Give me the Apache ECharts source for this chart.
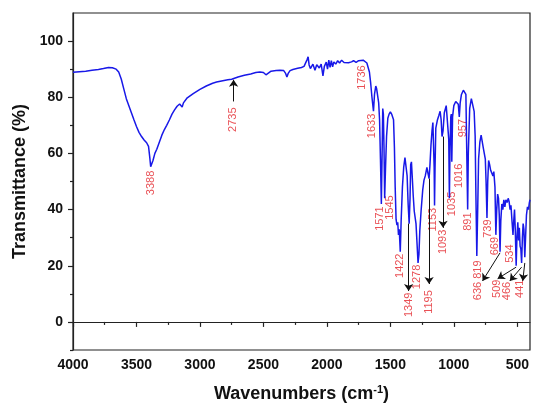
<!DOCTYPE html>
<html>
<head>
<meta charset="utf-8">
<script src="https://cdn.jsdelivr.net/npm/echarts@6/dist/echarts.min.js"></script>
<style>
    html, body { margin: 0; padding: 0; background: #fff; }
    #container { width: 533px; height: 408px; }
</style>
</head>
<body>
<div id="container"></div>
<script>
// spectrum: wavenumber (cm-1) / transmittance (%)
const wavenumbers = [
    4000, 3950, 3900, 3850, 3800, 3760, 3720, 3690, 3660, 3640, 3620, 3600, 3580, 3560, 3540, 3520, 3500, 3480,
    3460, 3440, 3420, 3405, 3395, 3388, 3380, 3370, 3355, 3340, 3320, 3300, 3280, 3262, 3240, 3220, 3200, 3180,
    3160, 3145, 3140, 3130, 3100, 3053, 3000, 2950, 2900, 2869, 2820, 2780, 2750, 2735, 2700, 2650, 2600, 2560,
    2528, 2500, 2480, 2465, 2440, 2400, 2370, 2340, 2325, 2315, 2305, 2290, 2268, 2230, 2200, 2180, 2165, 2155,
    2148, 2140, 2130, 2110, 2094, 2080, 2060, 2045, 2031, 2020, 2005, 1995, 1985, 1975, 1965, 1955, 1945, 1930,
    1915, 1900, 1884, 1865, 1850, 1830, 1806, 1790, 1770, 1750, 1736, 1714, 1700, 1685, 1675, 1665, 1655, 1645,
    1633, 1625, 1615, 1608, 1600, 1592, 1585, 1578, 1571, 1565, 1560, 1555, 1550, 1545, 1538, 1530, 1520, 1510,
    1500, 1490, 1483, 1475, 1468, 1462, 1455, 1448, 1442, 1436, 1430, 1422, 1415, 1405, 1395, 1385, 1376, 1368,
    1360, 1352, 1345, 1340, 1334, 1328, 1320, 1312, 1305, 1298, 1290, 1282, 1275, 1268, 1258, 1245, 1235, 1225,
    1212, 1204, 1195, 1188, 1180, 1172, 1165, 1160, 1155, 1152, 1148, 1142, 1130, 1118, 1108, 1100, 1093, 1085,
    1075, 1060, 1048, 1040, 1035, 1030, 1024, 1020, 1016, 1010, 1000, 985, 975, 965, 957, 950, 940, 925,
    912, 905, 898, 891, 886, 875, 862, 850, 840, 832, 826, 819, 812, 805, 795, 785, 775, 768,
    760, 752, 746, 739, 733, 726, 718, 710, 700, 692, 685, 676, 669, 662, 655, 648, 642, 636,
    630, 622, 614, 606, 598, 590, 580, 572, 565, 557, 550, 542, 534, 528, 522, 516, 509, 503,
    496, 490, 484, 478, 472, 466, 460, 454, 448, 441, 435, 428, 420, 412, 405, 400
];
const transmittance = [
    88.9, 89.1, 89.3, 89.6, 89.9, 90.2, 90.6, 90.5, 90.0, 89.0, 86.5, 83.0, 79.5, 77.0, 74.5, 72.0, 69.6, 67.5,
    66.0, 64.8, 63.8, 62.5, 58.5, 55.3, 56.0, 57.5, 60.0, 61.5, 64.0, 66.5, 68.5, 70.0, 72.0, 74.0, 75.5, 76.8,
    77.6, 77.2, 76.5, 78.0, 79.8, 81.3, 82.8, 84.0, 85.0, 85.4, 85.9, 86.2, 86.4, 86.6, 87.2, 87.8, 88.3, 88.8,
    89.0, 88.8, 88.0, 88.5, 89.3, 89.5, 89.6, 89.5, 88.5, 87.2, 88.5, 89.5, 89.9, 90.3, 90.6, 91.0, 90.5, 93.5,
    94.4, 91.5, 90.2, 91.8, 89.6, 91.6, 90.4, 91.8, 87.6, 91.0, 92.5, 90.0, 93.2, 90.6, 93.0, 90.8, 92.6, 91.8,
    93.0, 92.2, 93.2, 92.4, 92.8, 92.3, 92.6, 93.0, 92.4, 93.0, 92.8, 93.2, 92.6, 92.2, 91.8, 89.0, 85.0, 80.0,
    75.0, 81.0, 84.0, 83.0, 83.5, 78.0, 72.0, 58.0, 42.0, 60.0, 76.0, 74.0, 62.0, 44.0, 55.0, 66.0, 72.5, 74.0,
    74.8, 74.0, 74.5, 72.0, 62.0, 48.0, 36.5, 34.5, 35.5, 31.0, 33.0, 25.0, 36.0, 48.0, 55.0, 58.5, 58.0, 52.0,
    42.0, 35.0, 44.0, 56.0, 57.0, 52.0, 45.0, 39.5, 40.0, 35.0, 28.0, 21.0, 24.0, 32.5, 39.5, 47.0, 50.5, 52.0,
    55.0, 53.0, 51.0, 56.0, 63.0, 68.0, 71.0, 71.5, 55.0, 41.5, 55.0, 69.0, 71.8, 73.5, 75.0, 72.0, 66.0, 68.0,
    74.5, 77.0, 77.7, 65.0, 44.0, 62.0, 73.0, 74.0, 57.0, 73.0, 77.0, 78.5, 79.0, 77.5, 73.0, 78.0, 81.0, 82.5,
    83.2, 81.0, 60.0, 40.0, 60.0, 76.0, 79.5, 79.0, 75.0, 66.0, 45.0, 23.5, 40.0, 58.0, 64.0, 66.5, 67.0, 62.0,
    62.5, 58.0, 50.0, 37.0, 50.0, 57.5, 56.0, 54.0, 54.5, 52.0, 53.5, 48.0, 31.0, 40.0, 45.5, 44.0, 38.0, 25.0,
    36.0, 42.0, 40.0, 43.5, 41.0, 43.5, 42.5, 44.0, 43.0, 40.0, 41.5, 36.0, 31.0, 36.0, 40.0, 33.0, 20.0, 30.0,
    35.5, 29.0, 33.5, 27.0, 26.0, 21.0, 30.0, 35.0, 33.0, 23.0, 30.0, 38.0, 41.0, 40.0, 42.5, 43.5
];

// peak annotations (text, x, y of the label centre)
const peakTexts = ['3388', '2735', '1736', '1633', '1571', '1545', '1422', '1349', '1278', '1195', '1153', '1093',
    '1035', '1016', '957', '891', '636 819', '739', '669', '534', '509', '466', '441'];
const peakX = [3385, 2740, 1727, 1648, 1583, 1504, 1425, 1356, 1291, 1195, 1163, 1085,
    1018, 958, 927, 887, 809, 730, 677, 559, 664, 585, 480];
const peakY = [49.5, 72, 87, 69.8, 36.8, 40.7, 20, 6.1, 16, 7.1, 36.4, 28.5,
    42, 52, 69, 35.7, 14.8, 33.2, 27, 24.3, 11.8, 11, 11.8];

// arrows: from [x, y] to [x, y]
const arrowFrom = [[2735, 78.5], [1356, 35], [1195, 51], [1085, 66], [636, 24.6], [509, 19.5], [466, 19.5], [441, 21]];
const arrowTo = [[2735, 86.2], [1356, 11], [1195, 13.5], [1085, 33.5], [774, 14.6], [655, 15.4], [559, 14.6], [457, 14.6]];

const xMajor = [4000, 3500, 3000, 2500, 2000, 1500, 1000, 500];
const xMinor = [3750, 3250, 2750, 2250, 1750, 1250, 750];
const yMajor = [0, 20, 40, 60, 80, 100];
const yMinor = [-10, 10, 30, 50, 70, 90];

const font = 'Arial, "Liberation Sans", sans-serif';
const axisColor = '#222';

let myChart = echarts.init(document.getElementById('container'));

let spectrum = wavenumbers.map((w, i) => [w, transmittance[i]]);
let peaks = peakTexts.map((t, i) => [peakX[i], peakY[i]]);
let arrows = arrowFrom.map((a, i) => [{ coord: a }, { coord: arrowTo[i] }]);

myChart.setOption({
    animation: false,
    grid: {
        left: 73, right: 3, top: 13, bottom: 58,
        show: true, borderColor: axisColor, borderWidth: 1.2, backgroundColor: 'transparent'
    },
    xAxis: [
        {
            type: 'value', min: 400, max: 4000, inverse: true,
            name: 'Wavenumbers (cm{sup|-1})',
            nameLocation: 'middle', nameGap: 34,
            nameTextStyle: {
                fontFamily: font, fontSize: 18, fontWeight: 'bold', color: '#111',
                rich: { sup: { fontFamily: font, fontSize: 11, fontWeight: 'bold', color: '#111', padding: [0, 0, 9, 0] } }
            },
            axisLine: { lineStyle: { color: axisColor, width: 1.2 } },
            axisTick: { customValues: xMajor, length: 5, lineStyle: { color: axisColor, width: 1.2 } },
            axisLabel: {
                customValues: xMajor, margin: 8, formatter: (v) => String(v),
                fontFamily: font, fontSize: 14, fontWeight: 'bold', color: '#111'
            },
            splitLine: { show: false }
        },
        {
            type: 'value', min: 400, max: 4000, inverse: true, position: 'bottom',
            axisLine: { show: false },
            axisTick: { customValues: xMinor, length: 3, lineStyle: { color: axisColor, width: 1.2 } },
            axisLabel: { show: false },
            splitLine: { show: false }
        }
    ],
    yAxis: [
        {
            type: 'value', min: -10, max: 110,
            name: 'Transmittance (%)',
            nameLocation: 'middle', nameGap: 42,
            nameTextStyle: { fontFamily: font, fontSize: 18, fontWeight: 'bold', color: '#111' },
            axisLine: { show: true, lineStyle: { color: axisColor, width: 1.2 } },
            axisTick: { show: true, customValues: yMajor, length: 5, lineStyle: { color: axisColor, width: 1.2 } },
            axisLabel: { customValues: yMajor, margin: 10, fontFamily: font, fontSize: 14, fontWeight: 'bold', color: '#111' },
            splitLine: { show: false }
        },
        {
            type: 'value', min: -10, max: 110, position: 'left',
            axisLine: { show: false },
            axisTick: { show: true, customValues: yMinor, length: 3, lineStyle: { color: axisColor, width: 1.2 } },
            axisLabel: { show: false },
            splitLine: { show: false }
        }
    ],
    series: [
        {
            type: 'line',
            data: spectrum,
            showSymbol: false,
            lineStyle: { color: '#1818e8', width: 1.5 },
            silent: true
        },
        {
            type: 'scatter',
            data: peaks,
            symbolSize: 0,
            silent: true,
            label: {
                show: true,
                position: 'inside',
                rotate: 90,
                formatter: (p) => peakTexts[p.dataIndex],
                fontFamily: font, fontSize: 11, color: '#e3242b'
            },
            markLine: {
                silent: true,
                symbol: ['none', 'arrow'],
                symbolSize: 7,
                label: { show: false },
                lineStyle: { color: '#111', width: 1, type: 'solid' },
                data: arrows
            }
        }
    ]
});
</script>
</body>
</html>
